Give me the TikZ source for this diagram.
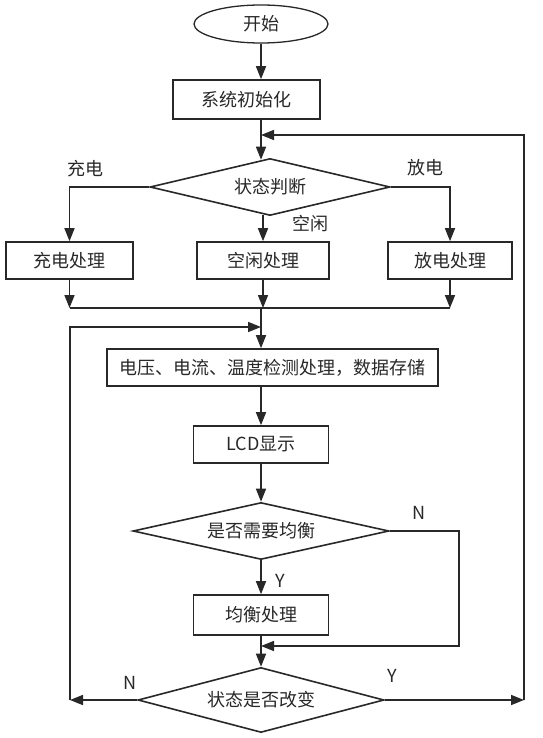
\documentclass[tikz,border=0pt]{standalone}
\usepackage{fontspec}
\newfontfamily\cjk{Noto Sans CJK SC}
\usetikzlibrary{shapes.geometric,arrows.meta}
\definecolor{ink}{RGB}{40,40,40}

\tikzstyle{startstop} = [ellipse, minimum width=134pt, minimum height=38pt, text centered, draw=ink, line width=1.3pt]
\tikzstyle{process} = [rectangle, minimum height=37pt, inner sep=0pt, text centered, draw=ink, line width=1.6pt]
\tikzstyle{decision} = [diamond, aspect=4, inner sep=0pt, text centered, draw=ink, line width=1.6pt]
\tikzstyle{arrow} = [line width=1.6pt, draw=ink, ->, >={Triangle[length=13pt,width=10pt]}]
\tikzstyle{line} = [line width=1.6pt, draw=ink]

\begin{document}
\begin{tikzpicture}[x=1pt, y=-1pt, font=\cjk\fontsize{18}{20}\selectfont, text=ink]
	
	\useasboundingbox (0,0) rectangle (542,738);
	\def \mx {261}
	
	\node (start) [startstop] at (\mx,24) {开始};
	\node (init) [process, minimum width=147pt, minimum height=39pt] at (246.5,99.5) {系统初始化};
	\node (judge) [decision, minimum width=240pt, minimum height=57pt] at (270,187) {状态判断};
	\node (charge) [process, minimum width=127pt] at (69.5,260.5) {充电处理};
	\node (idle) [process, minimum width=132pt] at (263,260.5) {空闲处理};
	\node (discharge) [process, minimum width=124pt] at (450,260.5) {放电处理};
	\node (measure) [process, minimum width=331pt] at (272.5,367.5) {电压、电流、温度检测处理，数据存储};
	\node (lcd) [process, minimum width=135pt] at (\mx,444.5) {LCD显示};
	\node (need) [decision, minimum width=256pt, minimum height=57pt] at (\mx,531) {是否需要均衡};
	\node (balance) [process, minimum width=135pt, minimum height=40pt] at (\mx,615) {均衡处理};
	\node (change) [decision, minimum width=246pt, minimum height=65pt] at (\mx,700) {状态是否改变};
	
	%labels
	\node (lcharge) at (85,169) {充电};
	\node (ldischarge) at (425,168) {放电};
	\node (lidle) at (310,224) {空闲};
	\node (lneedn) at (419,513) {N};
	\node (lneedy) at (280,581) {Y};
	\node (lchangen) at (130,683) {N};
	\node (lchangey) at (392,676) {Y};
	
	\coordinate (entry) at (\mx,135);
	\coordinate (merge) at (\mx,308);
	\coordinate (loopL) at (70,327);
	\coordinate (loopR) at (524,135);
	\coordinate (back) at (\mx,646);
	\coordinate (needR) at (459,531);
	
	%arrow
	\draw [arrow] (start) -- (start |- init.north);
	\draw [arrow] (init.south -| entry) -- ([yshift=-2pt]entry |- judge.north);
	\draw [arrow] (judge.west) -| (charge.north);
	\draw [arrow] (judge.east) -| (discharge.north);
	\draw [arrow] ([yshift=1.5pt]judge.south -| idle) -- (idle.north);
	\draw [arrow] (charge) -- (charge |- merge);
	\draw [arrow] (idle) -- (idle |- merge);
	\draw [arrow] (discharge) -- (discharge |- merge);
	\draw [line] (charge |- merge) -- (discharge |- merge);
	\draw [arrow] (merge) -- (merge |- measure.north);
	\draw [arrow] (measure.south -| lcd) -- (lcd);
	\draw [arrow] (lcd) -- (need);
	\draw [arrow] (need) -- (balance);
	\draw [arrow] (need.east) -- (needR) -- (needR |- back) -- (back);
	\draw [arrow] (balance) -- (change);
	\draw [arrow] (change.west) -- (change.west -| loopL);
	\draw [arrow] (change.west -| loopL) -- (loopL) -- (loopL -| merge);
	\draw [arrow] (change.east) -- (change.east -| loopR);
	\draw [arrow] (change.east -| loopR) -- (loopR) -- (entry);
	
\end{tikzpicture}
\end{document}
